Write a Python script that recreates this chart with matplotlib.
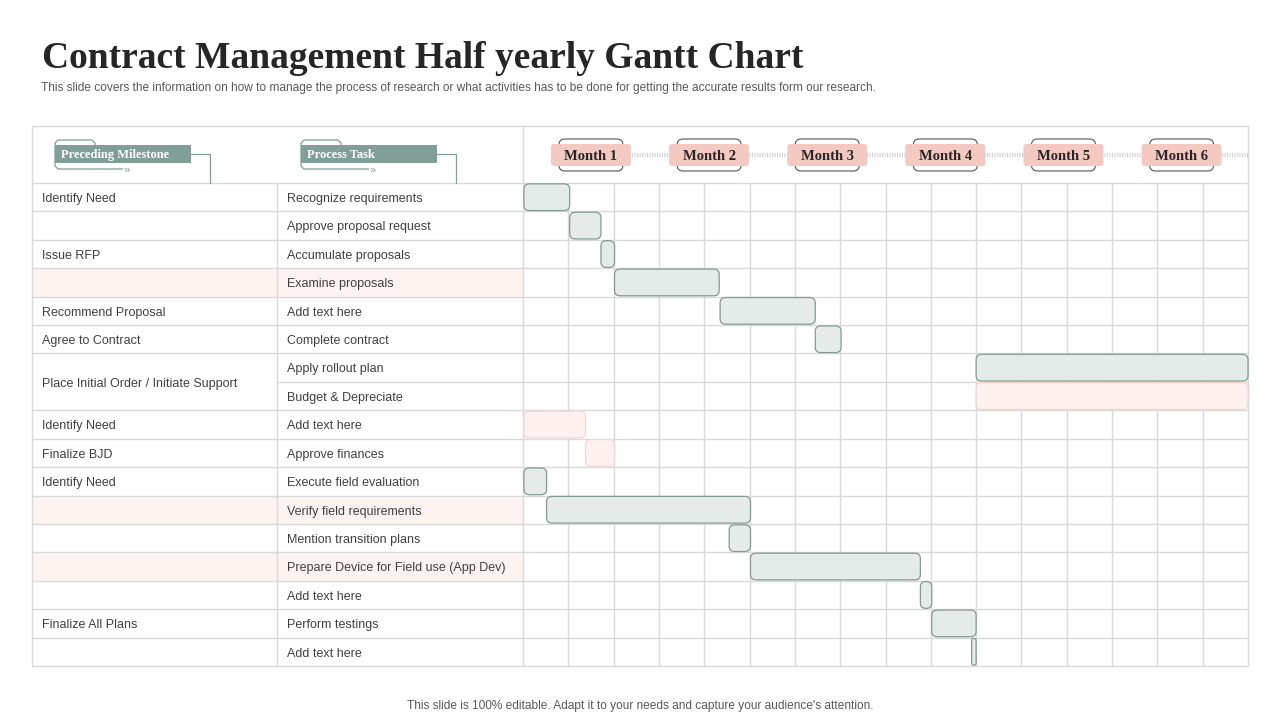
import matplotlib.pyplot as plt
from matplotlib.patches import FancyBboxPatch, Rectangle, PathPatch
from matplotlib.path import Path

title = 'Contract Management Half yearly Gantt Chart'
subtitle = ('This slide covers the information on how to manage the process of research or what '
            'activities has to be done for getting the accurate results form our research.')
footer = "This slide is 100% editable. Adapt it to your needs and capture your audience's attention."

# None = merged with the row above
milestones = ['Identify Need', '', 'Issue RFP', '', 'Recommend Proposal', 'Agree to Contract',
              'Place Initial Order / Initiate Support', None, 'Identify Need', 'Finalize BJD',
              'Identify Need', '', '', '', '', 'Finalize All Plans', '']
tasks = ['Recognize requirements', 'Approve proposal request', 'Accumulate proposals',
         'Examine proposals', 'Add text here', 'Complete contract', 'Apply rollout plan',
         'Budget & Depreciate', 'Add text here', 'Approve finances', 'Execute field evaluation',
         'Verify field requirements', 'Mention transition plans',
         'Prepare Device for Field use (App Dev)', 'Add text here', 'Perform testings',
         'Add text here']
highlight_rows = [3, 11, 13]

# timeline in 16 grid columns (6 months)
start = [0.02, 1.03, 1.72, 2.02, 4.35, 6.45, 10.0, 10.0, 0.02, 1.38, 0.02, 0.52, 4.55,
         5.02, 8.77, 9.02, 9.90]
end = [1.03, 1.72, 2.02, 4.33, 6.45, 7.02, 16.0, 16.0, 1.38, 2.02, 0.52, 5.02, 5.02,
       8.77, 9.02, 10.0, 10.0]
status = ['done', 'done', 'done', 'done', 'done', 'done', 'done', 'open', 'open', 'open',
          'done', 'done', 'done', 'done', 'done', 'done', 'done']
months = ['Month 1', 'Month 2', 'Month 3', 'Month 4', 'Month 5', 'Month 6']
n_cols = 16

GRID = '#d9d9d9'
TXT = '#404040'
TEAL = '#7f9f97'
SANS = 'Liberation Sans'
SERIF = 'Liberation Serif'

fig = plt.figure(figsize=(12.8, 7.2), dpi=100)
base = fig.add_axes([0, 0, 1, 1])
base.set_xlim(0, 1280)
base.set_ylim(720, 0)
base.axis('off')

# table geometry (pixels)
left, c1, c2, right = 32, 277, 523, 1248
head_top, body_top, bottom = 126, 183, 666
n = len(tasks)
rh = (bottom - body_top) / n
col_w = (right - c2) / n_cols

base.text(42, 59, title, fontsize=27, fontweight='bold', family=SERIF, color='#262626',
          va='center', ha='left')
base.text(41, 87.5, subtitle, fontsize=8.6, family=SANS, color='#595959', va='center', ha='left')
base.text(640, 706, footer, fontsize=8.6, family=SANS, color='#595959', va='center', ha='center')

# row backgrounds
for r in highlight_rows:
    base.add_patch(Rectangle((left, body_top + r * rh), c2 - left, rh, fc='#fff3f1', ec='none', zorder=0))

# table lines
lw = 1.0
base.add_patch(Rectangle((left, head_top), right - left, bottom - head_top, fc='none', ec=GRID, lw=lw, zorder=1))
base.plot([left, right], [body_top, body_top], color=GRID, lw=lw, zorder=1)
base.plot([c1, c1], [body_top, bottom], color=GRID, lw=lw, zorder=1)
base.plot([c2, c2], [head_top, bottom], color=GRID, lw=lw, zorder=1)
for i in range(1, n):
    y = body_top + i * rh
    x0 = c1 if milestones[i] is None else left
    base.plot([x0, c2], [y, y], color=GRID, lw=lw, zorder=1)

# row text
dy = 1.8
for i in range(n):
    yc = body_top + (i + 0.5) * rh + dy
    m = milestones[i]
    if m:
        ym = yc
        if i + 1 < n and milestones[i + 1] is None:
            ym = body_top + (i + 1) * rh + dy
        base.text(42, ym, m, fontsize=9, family=SANS, color=TXT, va='center', ha='left')
    base.text(287, yc, tasks[i], fontsize=9, family=SANS, color=TXT, va='center', ha='left')


# header badges
def bracket(x, label, x_line):
    verts = [(x + 40, 145), (x + 40, 143), (x + 37, 140), (x + 3, 140), (x, 143),
             (x, 166), (x + 3, 169), (x + 68, 169)]
    codes = [Path.MOVETO] + [Path.LINETO] * (len(verts) - 1)
    base.add_patch(PathPatch(Path(verts, codes), fc='none', ec=TEAL, lw=0.9, zorder=2))
    base.text(x + 69, 170, '»', fontsize=8, color=TEAL, va='center', ha='left', family=SANS)
    base.add_patch(Rectangle((x, 145), 136, 18, fc=TEAL, ec='none', zorder=3))
    base.text(x + 6, 155, label, fontsize=9, fontweight='bold', family=SERIF, color='white',
              va='center', ha='left', zorder=4)
    base.plot([x + 136, x_line, x_line], [154, 154, body_top], color=TEAL, lw=0.9, zorder=2)


bracket(55, 'Preceding Milestone', 210)
bracket(301, 'Process Task', 456)

# month badges
base.plot([632, right], [155, 155], color='#cfcfcf', lw=3, ls=(0, (0.25, 0.35)), zorder=2)
for i, mth in enumerate(months):
    cx = c2 + (1.5 + i * 2.607) * col_w
    base.add_patch(FancyBboxPatch((cx - 32, 139), 64, 32, boxstyle='round,pad=0,rounding_size=6',
                                  fc='white', ec='#555555', lw=0.8, zorder=3))
    base.add_patch(FancyBboxPatch((cx - 40, 144), 80, 22, boxstyle='round,pad=0,rounding_size=3',
                                  fc='#f3c9c1', ec='none', zorder=4))
    base.text(cx, 156.5, mth, fontsize=10.5, fontweight='bold', family=SERIF, color='#262626',
              va='center', ha='center', zorder=5)

# timeline axes
ax = fig.add_axes([c2 / 1280, (720 - bottom) / 720, (right - c2) / 1280, (bottom - body_top) / 720])
ax.set_xlim(0, n_cols)
ax.set_ylim(n, 0)
ax.patch.set_alpha(0)
ax.axis('off')
for k in range(1, n_cols):
    ax.axvline(k, color=GRID, lw=1.0, zorder=1)
for k in range(1, n):
    ax.axhline(k, color=GRID, lw=1.0, zorder=1)

aspect = col_w / rh
for i in range(n):
    if status[i] == 'done':
        fc, ec = '#e4ebe8', '#849a93'
    else:
        fc, ec = '#fff1ef', '#f4d6d1'
    w = end[i] - start[i]
    rs = min(0.12, w / 2.2)
    ax.add_patch(FancyBboxPatch((start[i], i + 0.03), w, 0.94,
                                boxstyle=f'round,pad=0,rounding_size={rs}', mutation_aspect=aspect,
                                fc=fc, ec=ec, lw=0.9, zorder=3, clip_on=False))

fig.savefig('out.png', dpi=100)
